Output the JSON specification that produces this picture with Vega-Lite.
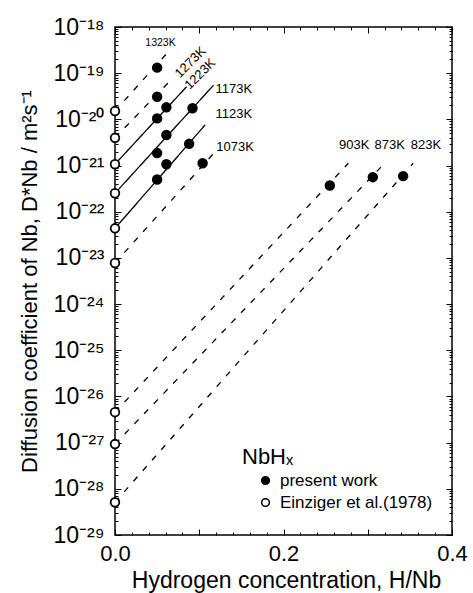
{
  "$schema": "https://vega.github.io/schema/vega-lite/v6.json",
  "width": 337,
  "height": 508,
  "autosize": "none",
  "padding": {"left": 115, "top": 27, "right": 21, "bottom": 58},
  "background": "white",
  "config": {
    "font": "Liberation Sans",
    "view": {"stroke": "black", "strokeWidth": 1.5},
    "axis": {"domain": false, "grid": false, "tickColor": "black", "labelColor": "black", "titleColor": "black", "labelFont": "Liberation Sans", "titleFont": "Liberation Sans", "titleFontWeight": "normal", "labelOverlap": false, "labelBound": false, "labelFlush": false}
  },
  "datasets": {
    "lines": [
      {"temp": "1323K", "style": "dashed", "x": 0, "D": 1.51e-20},
      {"temp": "1323K", "style": "dashed", "x": 0.065, "D": 3.16e-19},
      {"temp": "1273K", "style": "dashed", "x": 0, "D": 3.98e-21},
      {"temp": "1273K", "style": "dashed", "x": 0.069, "D": 8.0e-20},
      {"temp": "1223K", "style": "solid", "x": 0, "D": 1.07e-21},
      {"temp": "1223K", "style": "solid", "x": 0.085, "D": 5.1e-20},
      {"temp": "1173K", "style": "solid", "x": 0, "D": 2.51e-22},
      {"temp": "1173K", "style": "solid", "x": 0.117, "D": 5.5e-20},
      {"temp": "1123K", "style": "solid", "x": 0, "D": 4.37e-23},
      {"temp": "1123K", "style": "solid", "x": 0.107, "D": 7.6e-21},
      {"temp": "1073K", "style": "dashed", "x": 0, "D": 7.76e-24},
      {"temp": "1073K", "style": "dashed", "x": 0.119, "D": 2.0e-21},
      {"temp": "903K", "style": "dashed", "x": 0, "D": 4.57e-27},
      {"temp": "903K", "style": "dashed", "x": 0.277, "D": 1.12e-21},
      {"temp": "873K", "style": "dashed", "x": 0, "D": 9.3e-28},
      {"temp": "873K", "style": "dashed", "x": 0.321, "D": 1.17e-21},
      {"temp": "823K", "style": "dashed", "x": 0, "D": 5.1e-29},
      {"temp": "823K", "style": "dashed", "x": 0.354, "D": 1.12e-21}
    ],
    "points": [
      {"source": "present work", "x": 0.05, "D": 1.32e-19},
      {"source": "present work", "x": 0.05, "D": 3.09e-20},
      {"source": "present work", "x": 0.05, "D": 1.05e-20},
      {"source": "present work", "x": 0.061, "D": 1.82e-20},
      {"source": "present work", "x": 0.05, "D": 1.86e-21},
      {"source": "present work", "x": 0.061, "D": 4.57e-21},
      {"source": "present work", "x": 0.092, "D": 1.74e-20},
      {"source": "present work", "x": 0.05, "D": 5.0e-22},
      {"source": "present work", "x": 0.061, "D": 1.07e-21},
      {"source": "present work", "x": 0.088, "D": 2.95e-21},
      {"source": "present work", "x": 0.104, "D": 1.12e-21},
      {"source": "present work", "x": 0.255, "D": 3.7e-22},
      {"source": "present work", "x": 0.306, "D": 5.6e-22},
      {"source": "present work", "x": 0.342, "D": 5.9e-22},
      {"source": "Einziger et al.(1978)", "x": 0, "D": 1.51e-20},
      {"source": "Einziger et al.(1978)", "x": 0, "D": 3.98e-21},
      {"source": "Einziger et al.(1978)", "x": 0, "D": 1.07e-21},
      {"source": "Einziger et al.(1978)", "x": 0, "D": 2.51e-22},
      {"source": "Einziger et al.(1978)", "x": 0, "D": 4.37e-23},
      {"source": "Einziger et al.(1978)", "x": 0, "D": 7.76e-24},
      {"source": "Einziger et al.(1978)", "x": 0, "D": 4.57e-27},
      {"source": "Einziger et al.(1978)", "x": 0, "D": 9.3e-28},
      {"source": "Einziger et al.(1978)", "x": 0, "D": 5.1e-29}
    ],
    "labels": [
      {"label": "1323K", "x": 0.054, "D": 4.4e-19},
      {"label": "1273K", "x": 0.0895, "D": 1.72e-19},
      {"label": "1223K", "x": 0.101, "D": 9.6e-20},
      {"label": "1173K", "x": 0.141, "D": 4.62e-20},
      {"label": "1123K", "x": 0.141, "D": 1.31e-20},
      {"label": "1073K", "x": 0.1425, "D": 2.57e-21},
      {"label": "903K", "x": 0.284, "D": 2.79e-21},
      {"label": "873K", "x": 0.326, "D": 2.79e-21},
      {"label": "823K", "x": 0.369, "D": 2.79e-21}
    ]
  },
  "resolve": {"axis": {"x": "independent", "y": "independent"}},
  "layer": [
    {
      "data": {"name": "lines"},
      "mark": {"type": "line", "color": "black", "strokeWidth": 1.3},
      "encoding": {
        "x": {
          "field": "x", "type": "quantitative",
          "scale": {"domain": [0, 0.4], "nice": false, "zero": false},
          "axis": {
            "orient": "bottom",
            "values": [0, 0.02, 0.04, 0.06, 0.08, 0.1, 0.12, 0.14, 0.16, 0.18, 0.2, 0.22, 0.24, 0.26, 0.28, 0.3, 0.32, 0.34, 0.36, 0.38, 0.4],
            "labelExpr": "abs(datum.value*5 - round(datum.value*5)) < 0.001 ? format(datum.value, '.1f') : ''",
            "tickSize": {"condition": {"test": "abs(datum.value*10 - round(datum.value*10)) < 0.001", "value": -6}, "value": -3},
            "labelFontSize": 22,
            "labelPadding": 14,
            "title": "Hydrogen concentration, H/Nb",
            "titleFontSize": 23,
            "titleX": 171,
            "titleY": 52,
            "titleBaseline": "alphabetic",
            "titleAnchor": "middle"
          }
        },
        "y": {
          "field": "D", "type": "quantitative",
          "scale": {"type": "log", "domain": [1e-29, 1e-18], "nice": false},
          "axis": {
            "orient": "left",
            "values": [1e-29,2e-29,3e-29,4e-29,5e-29,6e-29,7e-29,8e-29,9e-29,1e-28,2e-28,3e-28,4e-28,5e-28,6e-28,7e-28,8e-28,9e-28,1e-27,2e-27,3e-27,4e-27,5e-27,6e-27,7e-27,8e-27,9e-27,1e-26,2e-26,3e-26,4e-26,5e-26,6e-26,7e-26,8e-26,9e-26,1e-25,2e-25,3e-25,4e-25,5e-25,6e-25,7e-25,8e-25,9e-25,1e-24,2e-24,3e-24,4e-24,5e-24,6e-24,7e-24,8e-24,9e-24,1e-23,2e-23,3e-23,4e-23,5e-23,6e-23,7e-23,8e-23,9e-23,1e-22,2e-22,3e-22,4e-22,5e-22,6e-22,7e-22,8e-22,9e-22,1e-21,2e-21,3e-21,4e-21,5e-21,6e-21,7e-21,8e-21,9e-21,1e-20,2e-20,3e-20,4e-20,5e-20,6e-20,7e-20,8e-20,9e-20,1e-19,2e-19,3e-19,4e-19,5e-19,6e-19,7e-19,8e-19,9e-19,1e-18],
            "labelExpr": "abs(log(datum.value)/LN10 - round(log(datum.value)/LN10)) < 0.001 ? ['10⁻¹⁸','10⁻¹⁹','10⁻²⁰','10⁻²¹','10⁻²²','10⁻²³','10⁻²⁴','10⁻²⁵','10⁻²⁶','10⁻²⁷','10⁻²⁸','10⁻²⁹'][round(-log(datum.value)/LN10) - 18] : ''",
            "tickSize": {"condition": {"test": "abs(log(datum.value)/LN10 - round(log(datum.value)/LN10)) < 0.001", "value": -6}, "value": -3},
            "labelFontSize": 23,
            "labelPadding": 17,
            "title": "Diffusion coefficient of Nb, D*Nb  / m²s⁻¹",
            "titleFontSize": 22,
            "titleX": -86,
            "titleY": 254,
            "titleAngle": -90,
            "titleBaseline": "middle",
            "titleAlign": "center"
          }
        },
        "detail": {"field": "temp"},
        "strokeDash": {
          "field": "style", "type": "nominal",
          "scale": {"domain": ["solid", "dashed"], "range": [[1, 0], [6, 8]]},
          "legend": null
        }
      }
    },
    {
      "data": {"name": "points"},
      "mark": {"type": "point", "shape": "circle", "filled": true, "stroke": "black", "strokeWidth": 1.8, "size": 75, "opacity": 1},
      "encoding": {
        "x": {
          "field": "x", "type": "quantitative",
          "scale": {"domain": [0, 0.4], "nice": false, "zero": false},
          "axis": {
            "orient": "top",
            "values": [0, 0.02, 0.04, 0.06, 0.08, 0.1, 0.12, 0.14, 0.16, 0.18, 0.2, 0.22, 0.24, 0.26, 0.28, 0.3, 0.32, 0.34, 0.36, 0.38, 0.4],
            "labels": false,
            "tickSize": {"condition": {"test": "abs(datum.value*10 - round(datum.value*10)) < 0.001", "value": -6}, "value": -3},
            "title": null
          }
        },
        "y": {
          "field": "D", "type": "quantitative",
          "scale": {"type": "log", "domain": [1e-29, 1e-18], "nice": false},
          "axis": {
            "orient": "right",
            "values": [1e-29,2e-29,3e-29,4e-29,5e-29,6e-29,7e-29,8e-29,9e-29,1e-28,2e-28,3e-28,4e-28,5e-28,6e-28,7e-28,8e-28,9e-28,1e-27,2e-27,3e-27,4e-27,5e-27,6e-27,7e-27,8e-27,9e-27,1e-26,2e-26,3e-26,4e-26,5e-26,6e-26,7e-26,8e-26,9e-26,1e-25,2e-25,3e-25,4e-25,5e-25,6e-25,7e-25,8e-25,9e-25,1e-24,2e-24,3e-24,4e-24,5e-24,6e-24,7e-24,8e-24,9e-24,1e-23,2e-23,3e-23,4e-23,5e-23,6e-23,7e-23,8e-23,9e-23,1e-22,2e-22,3e-22,4e-22,5e-22,6e-22,7e-22,8e-22,9e-22,1e-21,2e-21,3e-21,4e-21,5e-21,6e-21,7e-21,8e-21,9e-21,1e-20,2e-20,3e-20,4e-20,5e-20,6e-20,7e-20,8e-20,9e-20,1e-19,2e-19,3e-19,4e-19,5e-19,6e-19,7e-19,8e-19,9e-19,1e-18],
            "labels": false,
            "tickSize": {"condition": {"test": "abs(log(datum.value)/LN10 - round(log(datum.value)/LN10)) < 0.001", "value": -6}, "value": -3},
            "title": null
          }
        },
        "fill": {
          "field": "source", "type": "nominal",
          "scale": {"domain": ["present work", "Einziger et al.(1978)"], "range": ["black", "white"]},
          "legend": {
            "title": "NbHₓ",
            "orient": "none",
            "legendX": 127,
            "legendY": 420,
            "titleFontSize": 22,
            "titleFontWeight": "normal",
            "titleColor": "black",
            "titlePadding": 3,
            "labelFontSize": 17,
            "labelLimit": 300,
            "labelColor": "black",
            "labelOffset": 6,
            "symbolType": "circle",
            "symbolSize": 60,
            "symbolStrokeColor": "black",
            "symbolStrokeWidth": 1.5,
            "symbolOffset": 15,
            "rowPadding": 4
          }
        }
      }
    },
    {
      "data": {"name": "labels"},
      "mark": {"type": "text", "color": "black", "font": "Liberation Sans", "align": "center", "baseline": "middle"},
      "transform": [{"filter": "datum.label != '1273K' && datum.label != '1223K'"}],
      "encoding": {
        "x": {"field": "x", "type": "quantitative", "scale": {"domain": [0, 0.4], "nice": false, "zero": false}, "axis": null},
        "y": {"field": "D", "type": "quantitative", "scale": {"type": "log", "domain": [1e-29, 1e-18], "nice": false}, "axis": null},
        "text": {"field": "label"},
        "size": {"condition": {"test": "datum.label == '1323K'", "value": 10.5}, "value": 13}
      }
    },
    {
      "data": {"name": "labels"},
      "mark": {"type": "text", "color": "black", "font": "Liberation Sans", "align": "center", "baseline": "middle", "angle": -45, "fontSize": 13},
      "transform": [{"filter": "datum.label == '1273K' || datum.label == '1223K'"}],
      "encoding": {
        "x": {"field": "x", "type": "quantitative", "scale": {"domain": [0, 0.4], "nice": false, "zero": false}, "axis": null},
        "y": {"field": "D", "type": "quantitative", "scale": {"type": "log", "domain": [1e-29, 1e-18], "nice": false}, "axis": null},
        "text": {"field": "label"}
      }
    }
  ]
}
